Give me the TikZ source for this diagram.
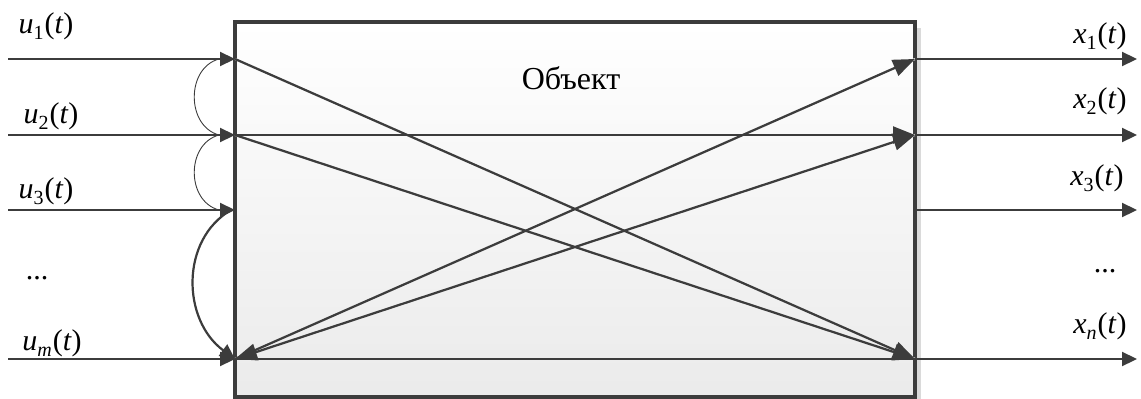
\documentclass[tikz,border=0pt]{standalone}
\usepackage{fontspec}
\setmainfont{Liberation Serif}
\newfontfamily\tnr{Liberation Serif}
\usetikzlibrary{arrows.meta}
\definecolor{ln}{HTML}{3C3C3C}
\definecolor{shd}{HTML}{DADADA}
\newcommand\sig[3]{\textit{#1}\raisebox{-0.22em}{\fontsize{20pt}{20pt}\selectfont#3{#2}}\kern1pt(\textit{t})}
\begin{document}
\begin{tikzpicture}[x=1pt,y=-1pt,
  tip/.style={-{Triangle[length=15pt,width=14pt]}},
  bigtip/.style={-{Triangle[length=22pt,width=17pt]}},
  flow/.style={draw=ln,line width=2.2pt},
  shadowline/.style={draw=shd,line width=2.2pt},
  arc/.style={draw=ln,line width=0.9pt},
  lab/.style={font=\tnr\fontsize{30pt}{32pt}\selectfont,inner sep=0pt}]
\useasboundingbox (0,0) rectangle (1141,399);
% box shadow
\fill[shd] (241,28) rectangle (921,403);
\node[draw=ln,line width=3.2pt,minimum width=680pt,minimum height=375pt,
  top color=white,bottom color=black!8,inner sep=0pt] (obj) at (575,209.5) {};
\node[font=\tnr\fontsize{32pt}{34pt}\selectfont,inner sep=0pt] (title) at (571,78) {Объект};
% points
\coordinate (i1) at (235,59); \coordinate (i2) at (235,135);
\coordinate (i3) at (235,210); \coordinate (im) at (235,359);
\coordinate (o1) at (915,59); \coordinate (o2) at (915,135);
\coordinate (o3) at (915,210); \coordinate (on) at (915,359);
\coordinate (s1) at (8,59); \coordinate (s2) at (8,135);
\coordinate (s3) at (8,210); \coordinate (sm) at (8,359);
\coordinate (e1) at (1137,59); \coordinate (e2) at (1137,135);
\coordinate (e3) at (1137,210); \coordinate (en) at (1137,359);
% internal shadows
\begin{scope}[shift={(3,4)}]
\draw[shadowline] (i1) -- (on);
\draw[shadowline] (i2) -- (on);
\draw[shadowline] (i2) -- (o2);
\draw[shadowline] (im) -- (o1);
\draw[shadowline] (im) -- (o2);
\draw[shadowline] (im) -- (on);
\end{scope}
% internal connections
\draw[flow,bigtip] (i1) -- (on);
\draw[flow,bigtip] (i2) -- (on);
\draw[flow,bigtip] (i2) -- (o2);
\draw[flow,bigtip] (im) -- (o1);
\draw[flow,{Triangle[length=22pt,width=17pt]}-{Triangle[length=22pt,width=17pt]}] (im) -- (o2);
\draw[flow] (im) -- (on);
% inputs
\draw[flow,tip] (s1) -- (i1);
\draw[flow,tip] (s2) -- (i2);
\draw[flow,tip] (s3) -- (i3);
\draw[flow,tip] (sm) -- (im);
% outputs
\draw[flow,tip] (o1) -- (e1);
\draw[flow,tip] (o2) -- (e2);
\draw[flow,tip] (o3) -- (e3);
\draw[flow,tip] (on) -- (en);
% arcs
\draw[arc] ([xshift=-16pt]i1) .. controls (186,68) and (186,126) .. ([xshift=-16pt]i2);
\draw[arc] ([xshift=-16pt]i2) .. controls (186,144) and (186,201) .. ([xshift=-16pt]i3);
\draw[flow,tip] ([xshift=-4pt]i3) .. controls (180,240) and (182,320) .. (im);
% labels
\node[lab] (lu1) at (46,26) {\sig{u}{1}{}};
\node[lab] (lu2) at (51,116) {\sig{u}{2}{}};
\node[lab] (lu3) at (46,191) {\sig{u}{3}{}};
\node[lab] (ldl) at (37,278) {...};
\node[lab] (lum) at (52,343) {\sig{u}{m}{\itshape}};
\node[lab] (lx1) at (1100,36) {\sig{x}{1}{}};
\node[lab] (lx2) at (1100,101) {\sig{x}{2}{}};
\node[lab] (lx3) at (1097,178) {\sig{x}{3}{}};
\node[lab] (ldr) at (1105,271) {...};
\node[lab] (lxn) at (1100,326) {\sig{x}{n}{\itshape}};
\end{tikzpicture}
\end{document}
